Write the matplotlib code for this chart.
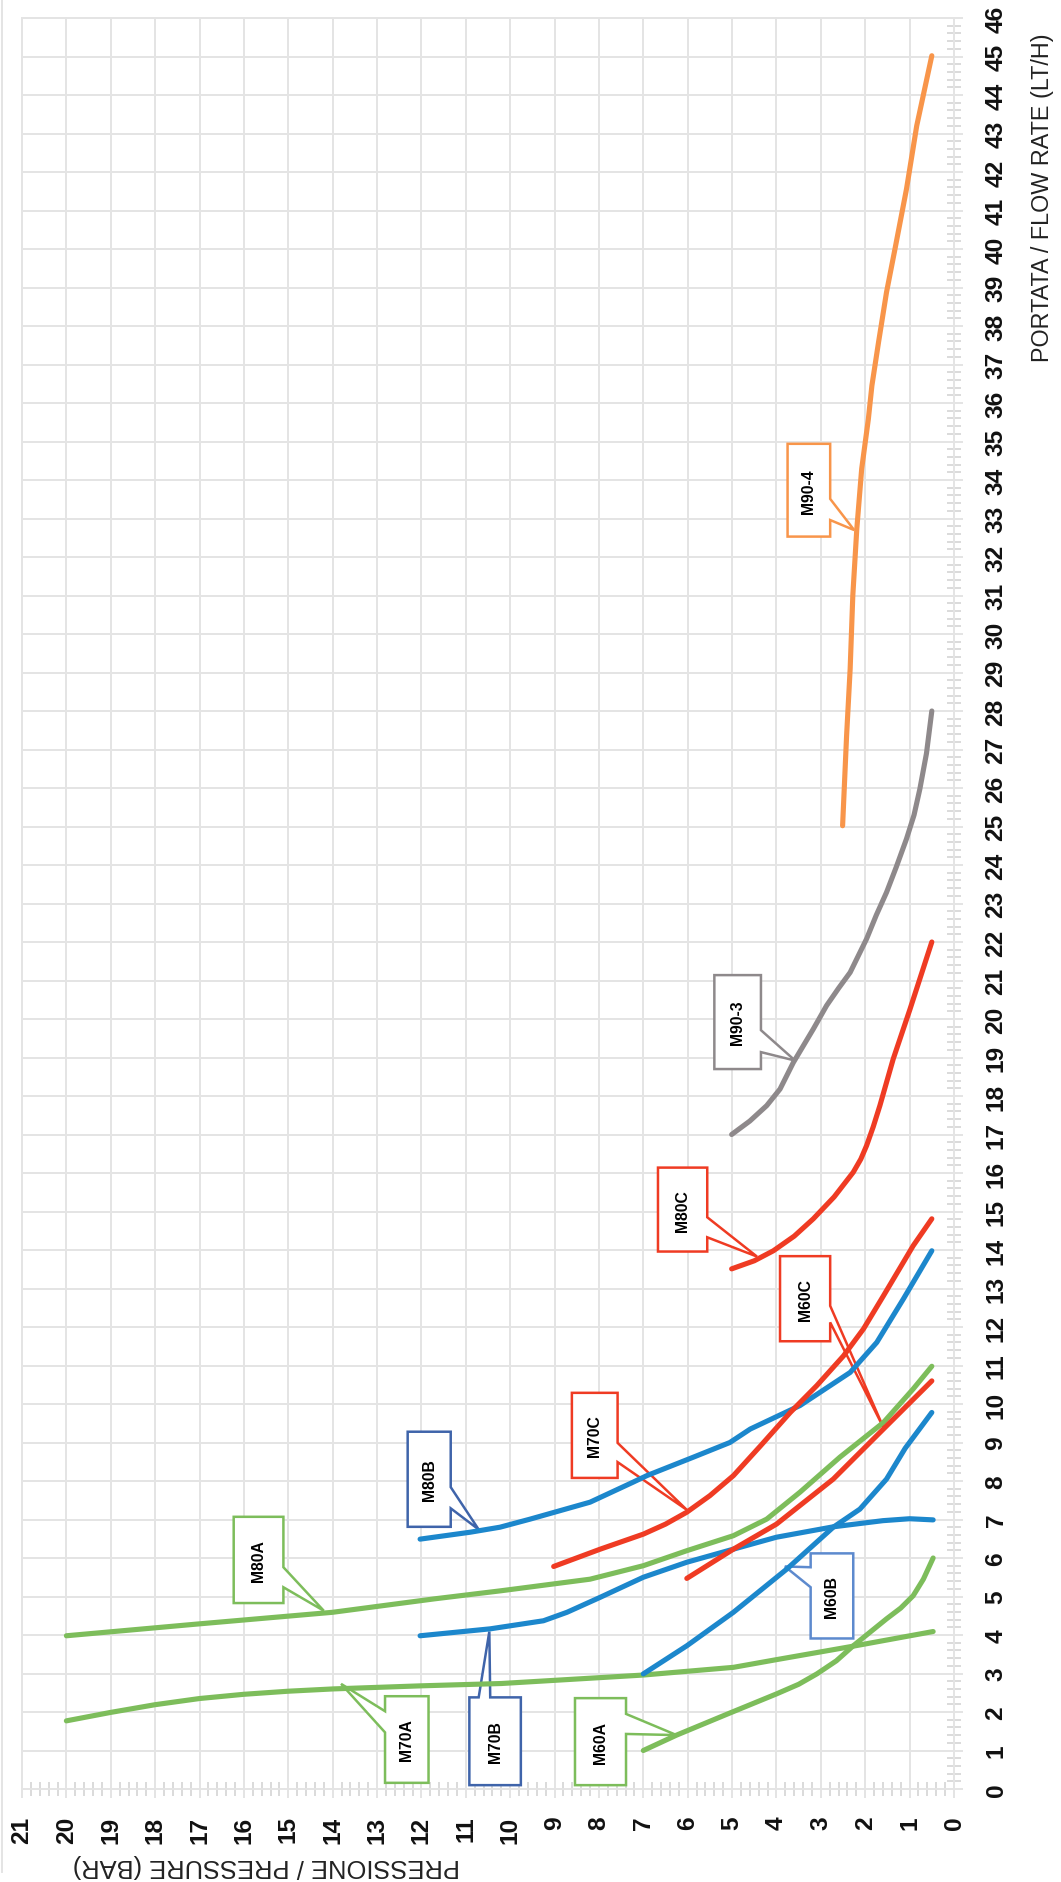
import matplotlib
matplotlib.use("Agg")
import matplotlib.pyplot as plt
from matplotlib import font_manager
from matplotlib.patches import Polygon
from matplotlib.lines import Line2D

# ---- dati: pressione (bar) / portata (lt/h) ----
m60a_p = [7.0, 6.25, 5.1, 4.0, 3.5, 3.09, 2.65, 2.27, 1.52, 1.2, 0.92, 0.69, 0.47]
m60a_q = [1.0, 1.40, 1.95, 2.47, 2.72, 2.99, 3.33, 3.72, 4.42, 4.70, 5.02, 5.45, 6.0]

m70a_p = [20.0, 19.0, 18.0, 17.0, 16.0, 15.0, 13.98, 12.0, 10.2, 7.0, 4.97, 4.0, 2.27, 0.47]
m70a_q = [1.77, 1.99, 2.19, 2.35, 2.46, 2.54, 2.60, 2.68, 2.74, 2.96, 3.16, 3.36, 3.71, 4.09]

m80a_p = [20.0, 17.0, 14.0, 11.7, 10.2, 8.2, 7.0, 6.02, 4.97, 4.22, 3.47, 2.57, 1.59, 0.92, 0.5]
m80a_q = [3.98, 4.29, 4.59, 4.94, 5.15, 5.45, 5.80, 6.19, 6.58, 7.01, 7.71, 8.62, 9.52, 10.39, 10.98]

m60b_p = [7.0, 6.02, 4.97, 3.77, 2.72, 2.12, 1.52, 1.1, 0.5]
m60b_q = [2.99, 3.72, 4.59, 5.71, 6.80, 7.27, 8.05, 8.85, 9.78]

m70b_p = [12.03, 10.45, 9.25, 8.72, 7.97, 7.0, 6.02, 4.97, 4.0, 2.72, 1.6, 1.0, 0.47]
m70b_q = [3.98, 4.16, 4.37, 4.59, 4.98, 5.50, 5.89, 6.23, 6.54, 6.81, 6.97, 7.02, 6.99]

m80b_p = [12.03, 10.9, 10.23, 9.55, 8.2, 7.23, 6.92, 5.87, 5.05, 4.59, 3.47, 2.34, 1.74, 1.14, 0.5]
m80b_q = [6.49, 6.67, 6.80, 7.01, 7.45, 7.97, 8.14, 8.62, 9.0, 9.35, 9.96, 10.82, 11.6, 12.73, 13.98]

m60c_p = [6.02, 4.97, 4.0, 2.72, 2.19, 1.59, 0.5]
m60c_q = [5.47, 6.23, 6.88, 8.05, 8.66, 9.35, 10.6]

m70c_p = [9.02, 7.97, 7.0, 6.5, 6.02, 5.5, 4.97, 4.37, 3.69, 3.09, 2.49, 2.04, 1.59, 0.92, 0.5]
m70c_q = [5.78, 6.23, 6.62, 6.88, 7.19, 7.62, 8.14, 8.9, 9.78, 10.48, 11.25, 11.95, 12.81, 14.11, 14.81]

m80c_p = [5.01, 4.5, 4.07, 3.6, 3.17, 2.7, 2.27, 2.1, 1.97, 1.82, 1.67, 1.37, 0.99, 0.5]
m80c_q = [13.51, 13.72, 13.98, 14.36, 14.81, 15.38, 16.02, 16.36, 16.71, 17.2, 17.75, 18.96, 20.26, 22.0]

m903_p = [5.01, 4.6, 4.22, 3.92, 3.62, 3.17, 2.87, 2.6, 2.34, 1.97, 1.75, 1.52, 1.3, 1.07, 0.9, 0.77, 0.62, 0.5]
m903_q = [17.0, 17.35, 17.75, 18.18, 18.87, 19.74, 20.35, 20.8, 21.21, 22.08, 22.7, 23.29, 23.95, 24.68, 25.3, 25.97, 26.9, 28.0]

m904_p = [2.51, 2.42, 2.34, 2.28, 2.19, 2.08, 1.93, 1.85, 1.70, 1.52, 1.33, 1.07, 0.84, 0.5]
m904_q = [25.02, 27.36, 29.09, 31.0, 32.73, 34.29, 35.58, 36.45, 37.58, 38.88, 40.0, 41.56, 43.2, 45.02]

p_ticks = list(range(0, 22))
q_ticks = list(range(0, 47))

BLUE = "#1c87cc"
GREEN = "#7dbd5b"
RED = "#ef3b23"
ORANGE = "#f8954a"
GRAY = "#8e898b"
GRID = "#e4e4e4"

have = {f.name for f in font_manager.fontManager.ttflist}
if "Liberation Sans Narrow" in have:
    NARROW, k = "Liberation Sans Narrow", 1.0
else:
    NARROW, k = "Liberation Sans", 0.84

serie = [
    (m60a_p, m60a_q, GREEN), (m70a_p, m70a_q, GREEN), (m80a_p, m80a_q, GREEN),
    (m60b_p, m60b_q, BLUE), (m70b_p, m70b_q, BLUE), (m80b_p, m80b_q, BLUE),
    (m60c_p, m60c_q, RED), (m70c_p, m70c_q, RED), (m80c_p, m80c_q, RED),
    (m903_p, m903_q, GRAY), (m904_p, m904_q, ORANGE),
]

# callout: testo, colore, box (p_alto, p_basso, q_basso, q_alto), lato, base, punta
callouts = [
    ("M80A", GREEN, (16.23, 15.11, 4.83, 7.07), "right", (5.24, 5.76), (14.2, 4.63)),
    ("M80B", "#3f64aa", (12.31, 11.34, 6.81, 9.28), "right", (7.29, 7.84), (10.71, 6.74)),
    ("M70C", RED, (8.61, 7.58, 8.08, 10.29), "right", (8.49, 8.99), (6.02, 7.25)),
    ("M70A", GREEN, (12.82, 11.84, 0.16, 2.41), "left", (1.47, 2.02), (13.81, 2.73)),
    ("M70B", "#3f64aa", (10.92, 9.76, 0.10, 2.38), "top", (10.71, 10.45), (10.47, 4.09)),
    ("M60A", GREEN, (8.54, 7.39, 0.10, 2.36), "right", (1.43, 1.95), (6.25, 1.40)),
    ("M60B", "#5d8ace", (3.23, 2.27, 3.91, 6.12), "left", (5.24, 5.76), (3.81, 5.78)),
    ("M60C", RED, (3.92, 2.79, 11.63, 13.84), "right", (12.12, 12.55), (1.59, 9.39)),
    ("M80C", RED, (6.67, 5.56, 13.96, 16.14), "right", (14.33, 14.85), (4.44, 13.83)),
    ("M90-3", GRAY, (5.40, 4.35, 18.70, 21.14), "right", (19.14, 19.71), (3.58, 18.92)),
    ("M90-4", ORANGE, (3.75, 2.79, 32.53, 34.94), "right", (32.96, 33.51), (2.25, 32.7)),
]


def forma_callout(box, lato, base, punta):
    ph, pl, ql, qh = box
    if lato == "right":
        return [(ph, ql), (ph, qh), (pl, qh), (pl, base[1]), punta, (pl, base[0]), (pl, ql)]
    if lato == "left":
        return [(ph, ql), (ph, base[0]), punta, (ph, base[1]), (ph, qh), (pl, qh), (pl, ql)]
    return [(ph, ql), (ph, qh), (base[0], qh), punta, (base[1], qh), (pl, qh), (pl, ql)]


W, H = 1061, 1883
fig = plt.figure(figsize=(W / 100, H / 100), dpi=100)
ax = fig.add_axes([22 / W, (H - 1790) / H, 932 / W, 1771 / H])

for p, q, c in serie:
    ax.plot(p, q, color=c, lw=3.7, solid_capstyle="round", solid_joinstyle="round", zorder=3)

for testo, col, box, lato, base, punta in callouts:
    ax.add_patch(Polygon(forma_callout(box, lato, base, punta), closed=True,
                         facecolor="white", edgecolor=col, lw=1.8, zorder=2.5,
                         joinstyle="miter"))
    ax.text((box[0] + box[1]) / 2, (box[2] + box[3]) / 2, testo, rotation=90,
            ha="center", va="center", fontsize=13.5 * k, fontweight="bold",
            family=NARROW, color="black", zorder=2.6)

ax.set_xlim(21, 0)
ax.set_ylim(0, 46)
ax.set_xticks(p_ticks)
ax.set_yticks(q_ticks)
ax.set_xticks([i / 5 for i in range(0, 106)], minor=True)
ax.set_yticks([i / 5 for i in range(0, 231)], minor=True)
ax.yaxis.tick_right()
ax.grid(which="major", color=GRID, lw=1.4)
ax.set_axisbelow(True)
for s in ax.spines.values():
    s.set_color(GRID)
    s.set_linewidth(1.4)

ax.tick_params(which="major", direction="out", length=6.5, width=1.4, color=GRID)
ax.tick_params(which="minor", direction="inout", length=9.5, width=1.4, color="#dadada")
ax.tick_params(axis="x", which="major", pad=12.5)
ax.tick_params(axis="y", which="major", pad=15.5)
ax.tick_params(axis="y", which="both", left=False, right=True)

for lab in ax.get_xticklabels() + ax.get_yticklabels():
    lab.set_rotation(90)
    lab.set_fontsize(21 * k)
    lab.set_fontweight("bold")
    lab.set_family(NARROW)
    lab.set_color("#111111")
for lab in ax.get_xticklabels():
    lab.set_va("top")
    lab.set_ha("center")
for lab in ax.get_yticklabels():
    lab.set_va("center")
    lab.set_ha("left")

fig.text(1042.5 / W, 1 - 33 / H, "PORTATA / FLOW RATE (LT/H)", rotation=90,
         ha="center", va="top", fontsize=20 * k, family=NARROW, color="#222222")
fig.text(266.5 / W, 1 - 1866 / H, "PRESSIONE / PRESSURE (BAR)", rotation=180,
         ha="center", va="center", fontsize=18.4, family="Liberation Sans", color="#222222")

fig.add_artist(Line2D([2 / W, 2 / W], [1 - 1873 / H, 1], transform=fig.transFigure,
                      color=GRID, lw=1.4))

fig.savefig("out.png", dpi=100)
